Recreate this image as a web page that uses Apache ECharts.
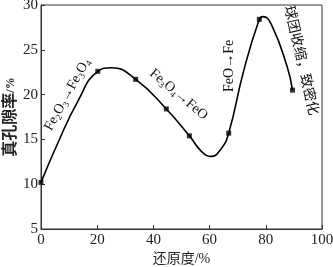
<!DOCTYPE html>
<html><head><meta charset="utf-8">
<script src="https://cdn.jsdelivr.net/npm/echarts@6/dist/echarts.min.js"></script>
<style>html,body{margin:0;padding:0;background:#fff}#c{width:333px;height:267px}</style>
</head><body><div id="c"></div>
<script>
// measured marker points (reduction degree %, true porosity %)
const markerX = [0, 20.2, 33.7, 44.6, 52.8, 66.8, 77.7, 89.5];
const markerY = [10.2, 22.6, 21.7, 18.4, 15.4, 15.7, 28.4, 20.5];
// points
const curveX = [0, 6, 13, 20.2, 25, 33.7, 44.6, 52.8, 57, 60.5, 64, 66.8, 72, 77.7, 79, 82, 87.6, 89.5];
const curveY = [10.2, 14.6, 19.2, 22.6, 23.0, 21.7, 18.4, 15.4, 13.7, 13.1, 13.9, 15.7, 22.5, 28.4, 28.7, 27.8, 23.1, 20.5];
const xTicks = [0, 20, 40, 60, 80, 100];
const yTicks = [5, 10, 15, 20, 25, 30];

const serif = '"Liberation Serif","Times New Roman","Noto Sans CJK SC",serif';
const chart = echarts.init(document.getElementById('c'));
chart.setOption({
  animation: false,
  grid: {left: 41, right: 11, top: 5, bottom: 38, containLabel: false, outerBoundsMode: 'none'},
  xAxis: {
    type: 'value', min: 0, max: 100, interval: 20,
    name: '还原度/%', nameLocation: 'middle', nameGap: 23, nameMoveOverlap: false,
    nameTextStyle: {fontFamily: serif, fontSize: 14, color: '#222'},
    axisLine: {lineStyle: {color: '#333', width: 1}},
    axisTick: {inside: true, length: 4, lineStyle: {color: '#333'}},
    axisLabel: {fontFamily: serif, fontSize: 15, color: '#222', margin: 4},
    splitLine: {show: false}
  },
  yAxis: {
    type: 'value', min: 5, max: 30, interval: 5,
    name: '{c|真孔隙率}{p|/%}', nameLocation: 'middle', nameGap: 22, nameMoveOverlap: false,
    nameTextStyle: {fontFamily: serif, fontSize: 15, color: '#222', fontWeight: 'bold',
      rich: {c: {fontFamily: serif, fontSize: 16, fontWeight: 'bold', color: '#222'},
             p: {fontFamily: serif, fontSize: 12, color: '#222'}}},
    axisLine: {lineStyle: {color: '#333', width: 1}},
    axisTick: {inside: true, length: 4, lineStyle: {color: '#333'}},
    axisLabel: {fontFamily: serif, fontSize: 15, color: '#222', margin: 3},
    splitLine: {show: false}
  },
  series: [
    {type: 'line', smooth: 0.5, symbol: 'none', data: curveX.map((x, i) => [x, curveY[i]]),
     lineStyle: {color: '#000', width: 1.6}},
    {type: 'scatter', symbol: 'rect', symbolSize: 5, data: markerX.map((x, i) => [x, markerY[i]]),
     itemStyle: {color: '#000'}}
  ]
});
function px(x, y) { return chart.convertToPixel({gridIndex: 0}, [x, y]); }
const rich = {
  s: {fontFamily: serif, fontSize: 9, color: '#111', verticalAlign: 'bottom', padding: [8, 0, 0, 0]},
  n: {fontFamily: serif, fontSize: 14, color: '#111'}
};
function label(pos, text, rot, size) {
  return {type: 'text', x: pos[0], y: pos[1], rotation: rot * Math.PI / 180,
    style: {text: text, rich: rich, fontFamily: serif, fontSize: size || 14, fill: '#111', align: 'center', verticalAlign: 'middle'}};
}
const p0 = px(0, 30);
const p1 = px(100, 5);
chart.setOption({graphic: [
  {type: 'rect', shape: {x: p0[0], y: p0[1], width: p1[0] - p0[0], height: p1[1] - p0[1]},
   style: {fill: 'none', stroke: '#333', lineWidth: 1}, silent: true},
  label(px(9.4, 20.0), '{n|Fe}{s|2}{n|O}{s|3}{n|→Fe}{s|3}{n|O}{s|4}', 61),
  label(px(49, 20.0), '{n|Fe}{s|3}{n|O}{s|4}{n|→FeO}', -40),
  label(px(67, 23.2), '{n|FeO→Fe}', 90),
  label(px(92.4, 23.8), '球团收缩，致密化', -77, 14)
]});
</script></body></html>
